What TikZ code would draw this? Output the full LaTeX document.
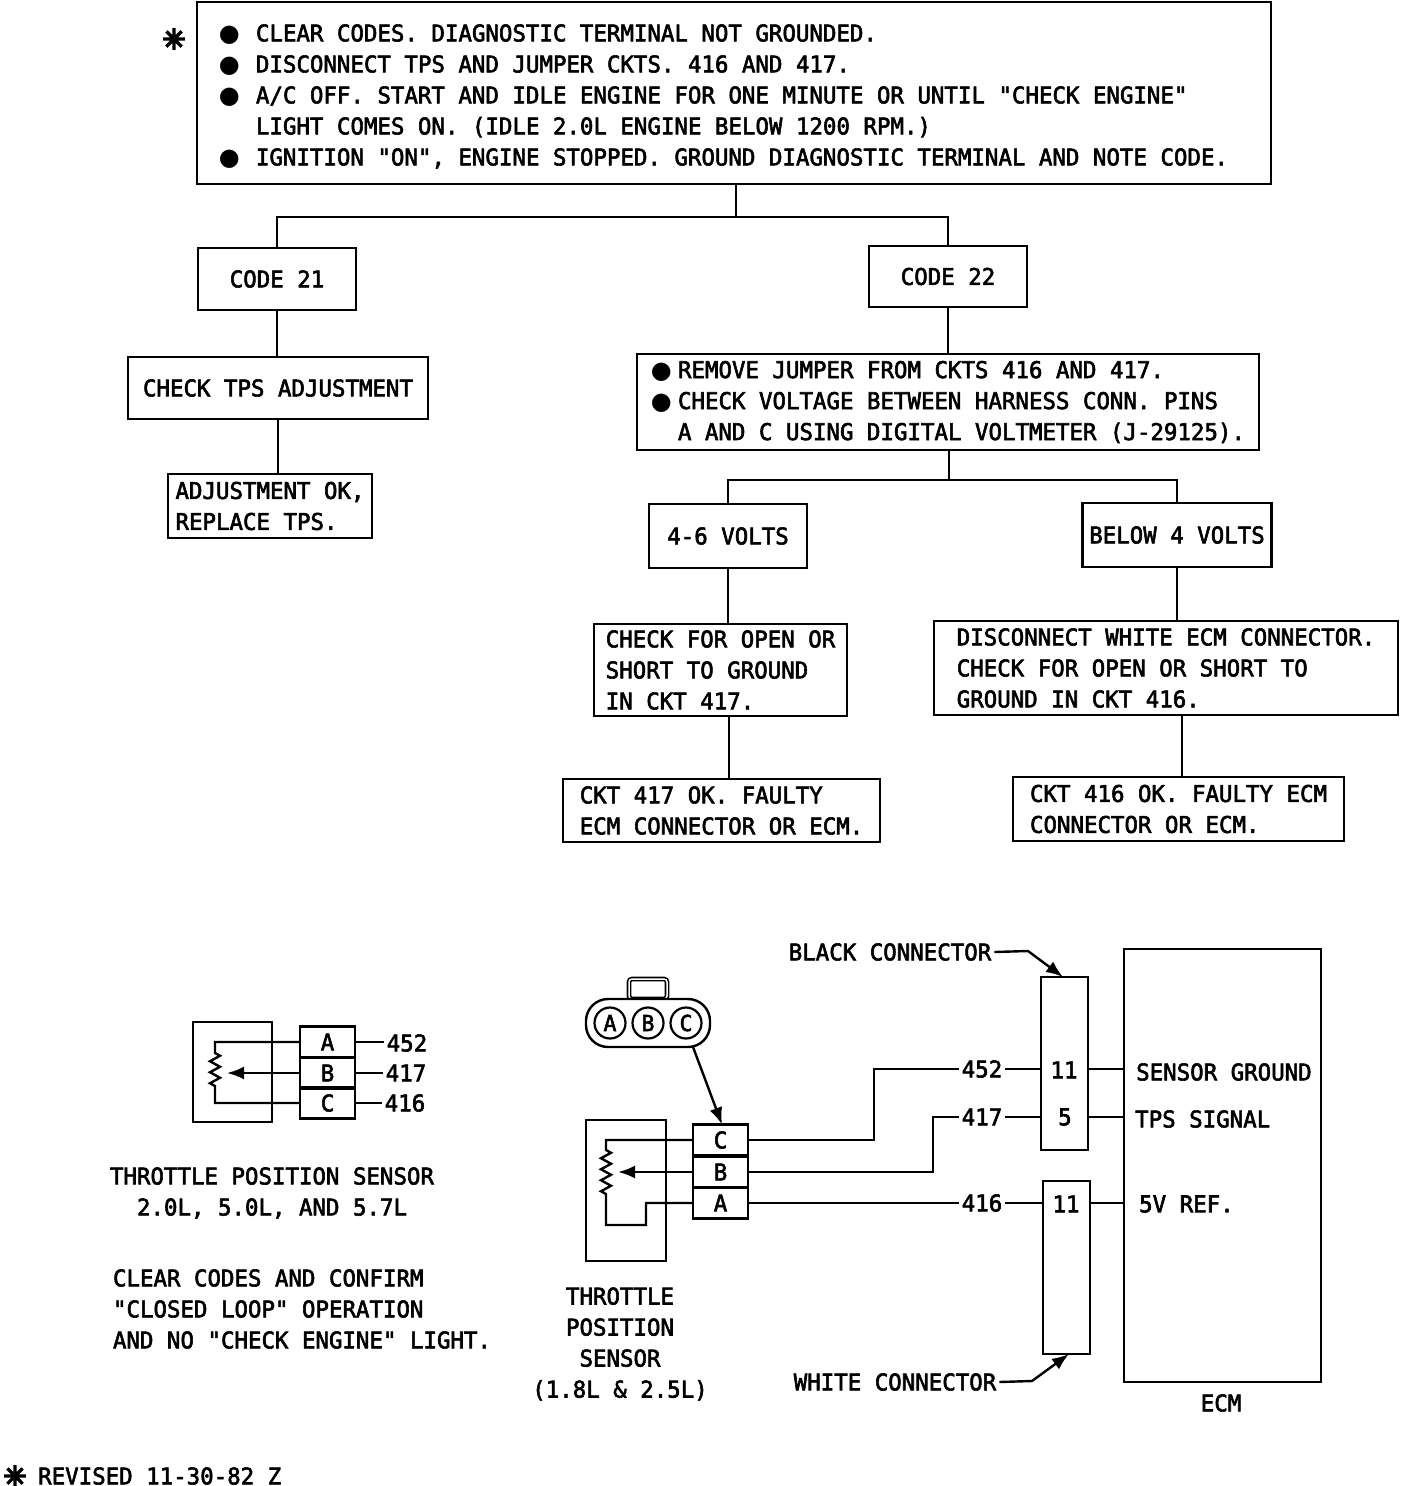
\documentclass[tikz,border=0pt]{standalone}
\usepackage{fontspec}
\usepackage{tikz}
\usetikzlibrary{arrows.meta,decorations.pathmorphing}
\setmonofont{DejaVu Sans Mono}[FakeStretch=0.975,FakeBold=2.5]
\newfontfamily\symfont{DejaVu Sans}
\newfontfamily\starfont{DejaVu Sans}[FakeBold=7]
\newcommand{\blob}[1]{\makebox[#1][l]{\symfont\fontsize{24}{31}\selectfont ●}}
\newcommand{\spoke}{{\starfont\fontsize{27}{31}\selectfont ✳}}
\tikzset{
    label/.style={inner sep=3pt,font=\ttfamily\fontsize{23}{31}\selectfont,align=left},
    box/.style={label,draw,line width=2.4pt},
    pin/.style={box,minimum width=55pt,minimum height=31pt,inner sep=0pt},
    hole/.style={draw,circle,line width=2.2pt,minimum size=31pt,inner sep=0pt,font=\ttfamily\fontsize{22}{31}\selectfont},
    wire/.style={line width=2.4pt},
    tipped/.style={wire,-{Latex[length=17pt,width=13pt]}},
    coil/.style={decorate,decoration={zigzag,amplitude=5pt,segment length=11pt}}
}
\begin{document}
\begin{tikzpicture}[x=1pt,y=-1pt]
\useasboundingbox (0,0) rectangle (1408,1486);
\node[label] (star) at (174,39) {\spoke};
\node[box,minimum width=1074pt,minimum height=182pt] (top) at (734,93) {\rule{0pt}{24pt}\blob{37pt}CLEAR CODES. DIAGNOSTIC TERMINAL NOT GROUNDED.\\
    \blob{37pt}DISCONNECT TPS AND JUMPER CKTS. 416 AND 417.\\
    \blob{37pt}A/C OFF. START AND IDLE ENGINE FOR ONE MINUTE OR UNTIL "CHECK ENGINE"\\
    \makebox[37pt]{}LIGHT COMES ON. (IDLE 2.0L ENGINE BELOW 1200 RPM.)\\
    \blob{37pt}IGNITION "ON", ENGINE STOPPED. GROUND DIAGNOSTIC TERMINAL AND NOTE CODE.\hspace*{21pt}};
\node[box,minimum width=158pt,minimum height=62pt] (code21) at (277,279) {CODE 21};
\node[box,minimum width=158pt,minimum height=61pt] (code22) at (948,276.5) {CODE 22};
\node[box,minimum width=300pt,minimum height=62pt] (checktps) at (278,388) {CHECK TPS ADJUSTMENT};
\node[box,minimum width=204pt,minimum height=64pt] (adjok) at (270,506) {ADJUSTMENT OK,\\REPLACE TPS.};
\node[box,minimum width=622pt,minimum height=96pt] (jumper) at (948,402) {\blob{27pt}REMOVE JUMPER FROM CKTS 416 AND 417.\\
    \blob{27pt}CHECK VOLTAGE BETWEEN HARNESS CONN. PINS\\
    \makebox[27pt]{}A AND C USING DIGITAL VOLTMETER (J-29125).};
\node[box,minimum width=158pt,minimum height=64pt] (volts46) at (728,536) {4-6 VOLTS};
\node[box,minimum width=189pt,minimum height=64pt] (below4) at (1177,535) {BELOW 4 VOLTS};
\node[box,minimum width=253pt,minimum height=92pt] (checkopen) at (720.5,670) {CHECK FOR OPEN OR\\SHORT TO GROUND\\IN CKT 417.};
\node[box,minimum width=464pt,minimum height=94pt] (disconnect) at (1166,668) {DISCONNECT WHITE ECM CONNECTOR.\\CHECK FOR OPEN OR SHORT TO\\GROUND IN CKT 416.};
\node[box,minimum width=317pt,minimum height=63pt] (ckt417) at (721.5,810.5) {CKT 417 OK. FAULTY\\ECM CONNECTOR OR ECM.};
\node[box,minimum width=331pt,minimum height=64pt] (ckt416) at (1178.5,809) {CKT 416 OK. FAULTY ECM\\CONNECTOR OR ECM.};
\coordinate (forkcode) at (736,217);
\coordinate (forkvolts) at (949,480);
\coordinate (drop417) at (729,750);
\coordinate (drop416) at (1182,750);
\draw[wire] (forkcode |- top.south) -- (forkcode);
\draw[wire] (code21.north) |- (forkcode) -| (code22.north);
\draw[wire] (code21.south) -- (code21.south |- checktps.north);
\draw[wire] (checktps.south) -- (checktps.south |- adjok.north);
\draw[wire] (code22.south) -- (code22.south |- jumper.north);
\draw[wire] (forkvolts |- jumper.south) -- (forkvolts);
\draw[wire] (volts46.north) |- (forkvolts) -| (below4.north);
\draw[wire] (volts46.south) -- (volts46.south |- checkopen.north);
\draw[wire] (below4.south) -- (below4.south |- disconnect.north);
\draw[wire] (drop417 |- checkopen.south) -- (drop417 |- ckt417.north);
\draw[wire] (drop416 |- disconnect.south) -- (drop416 |- ckt416.north);
\node[box,minimum width=79pt,minimum height=100pt] (housingl) at (232.5,1072) {};
\node[pin] (lefta) at (327.5,1042) {A};
\node[pin] (leftb) at (327.5,1073) {B};
\node[pin] (leftc) at (327.5,1103) {C};
\node[label] (left452) at (407,1043) {452};
\node[label] (left417) at (406,1073) {417};
\node[label] (left416) at (405,1103) {416};
\coordinate (lefttop) at (215,1042);
\coordinate (leftbot) at (215,1103);
\coordinate (leftwiper) at (227,1073);
\draw[wire] (lefta.west) -- (lefttop) -- (215,1053) decorate[coil] {-- (215,1091)} -- (leftbot) -- (leftc.west);
\draw[tipped] (leftb.west) -- (leftwiper);
\draw[wire] (lefta.east) -- (lefta.east -| left452.west);
\draw[wire] (leftb.east) -- (left417.west);
\draw[wire] (leftc.east) -- (left416.west);
\node[label,align=center] (sensorname) at (272,1193) {THROTTLE POSITION SENSOR\\2.0L, 5.0L, AND 5.7L};
\node[label] (confirm) at (302,1309) {CLEAR CODES AND CONFIRM\\"CLOSED LOOP" OPERATION\\AND NO "CHECK ENGINE" LIGHT.};
\node[draw,double,double distance=1.5pt,line width=1.6pt,rounded corners=3pt,minimum width=38pt,minimum height=20pt] (tab) at (648,989) {};
\node[draw,line width=2.4pt,fill=white,rounded corners=22pt,minimum width=124pt,minimum height=48pt] (plug) at (648,1023) {};
\node[hole] (holea) at (610,1023) {A};
\node[hole] (holeb) at (648,1023) {B};
\node[hole] (holec) at (686,1023) {C};
\node[box,minimum width=80pt,minimum height=141pt] (housingm) at (626,1190.5) {};
\node[pin] (midc) at (720.5,1140) {C};
\node[pin] (midb) at (720.5,1172) {B};
\node[pin] (mida) at (720.5,1203) {A};
\coordinate (plugout) at (693,1047);
\coordinate (midin) at (722,1124.5);
\draw[tipped] (plugout) -- (midin);
\coordinate (midtop) at (606,1140);
\coordinate (midbot) at (606,1225);
\coordinate (midstep) at (646,1225);
\coordinate (midwiper) at (618,1172);
\draw[wire] (midc.west) -- (midtop) -- (606,1150) decorate[coil] {-- (606,1195)} -- (midbot) -- (midstep) |- (mida.west);
\draw[tipped] (midb.west) -- (midwiper);
\node[label,align=center] (midname) at (620,1344) {THROTTLE\\POSITION\\SENSOR\\(1.8L \& 2.5L)};
\node[box,minimum width=47pt,minimum height=173pt] (blackconn) at (1064.5,1063.5) {};
\node[box,minimum width=47pt,minimum height=173pt] (whiteconn) at (1066.5,1267.5) {};
\node[box,minimum width=197pt,minimum height=433pt] (ecm) at (1222.5,1165.5) {};
\node[label] (mid452) at (982,1069) {452};
\node[label] (mid417) at (982,1117) {417};
\node[label] (mid416) at (982,1203) {416};
\node[label] (pin11a) at (1064,1070) {11};
\node[label] (pin5) at (1065,1117) {5};
\node[label] (pin11b) at (1066,1204) {11};
\coordinate (bend452) at (874,1069);
\coordinate (bend417) at (933,1117);
\draw[wire] (midc.east) -| (bend452) -- (mid452.west);
\draw[wire] (midb.east) -| (bend417) -- (mid417.west);
\draw[wire] (mida.east) -- (mid416.west);
\draw[wire] (mid452.east) -- (mid452.east -| blackconn.west);
\draw[wire] (mid417.east) -- (mid417.east -| blackconn.west);
\draw[wire] (mid416.east) -- (mid416.east -| whiteconn.west);
\draw[wire] (blackconn.east |- mid452) -- (ecm.west |- mid452);
\draw[wire] (blackconn.east |- mid417) -- (ecm.west |- mid417);
\draw[wire] (whiteconn.east |- mid416) -- (ecm.west |- mid416);
\node[label,anchor=west] (sensorground) at (1133,1072) {SENSOR GROUND};
\node[label,anchor=west] (tpssignal) at (1132,1119) {TPS SIGNAL};
\node[label,anchor=west] (fivevref) at (1136,1204) {5V REF.};
\node[label] (ecmname) at (1221,1403) {ECM};
\node[label] (blacklabel) at (890,952) {BLACK CONNECTOR};
\node[label] (whitelabel) at (895,1382) {WHITE CONNECTOR};
\coordinate (blackbend) at (1028,951);
\coordinate (blacktip) at (1063,977);
\coordinate (whitebend) at (1032,1381);
\coordinate (whitetip) at (1069,1354);
\draw[tipped] (blacklabel.east) -- (blackbend) -- (blacktip);
\draw[tipped] (whitelabel.east) -- (whitebend) -- (whitetip);
\node[label] (revstar) at (15,1476) {\spoke};
\node[label,anchor=west] (revised) at (35,1476) {REVISED 11-30-82 Z};
\end{tikzpicture}
\end{document}
